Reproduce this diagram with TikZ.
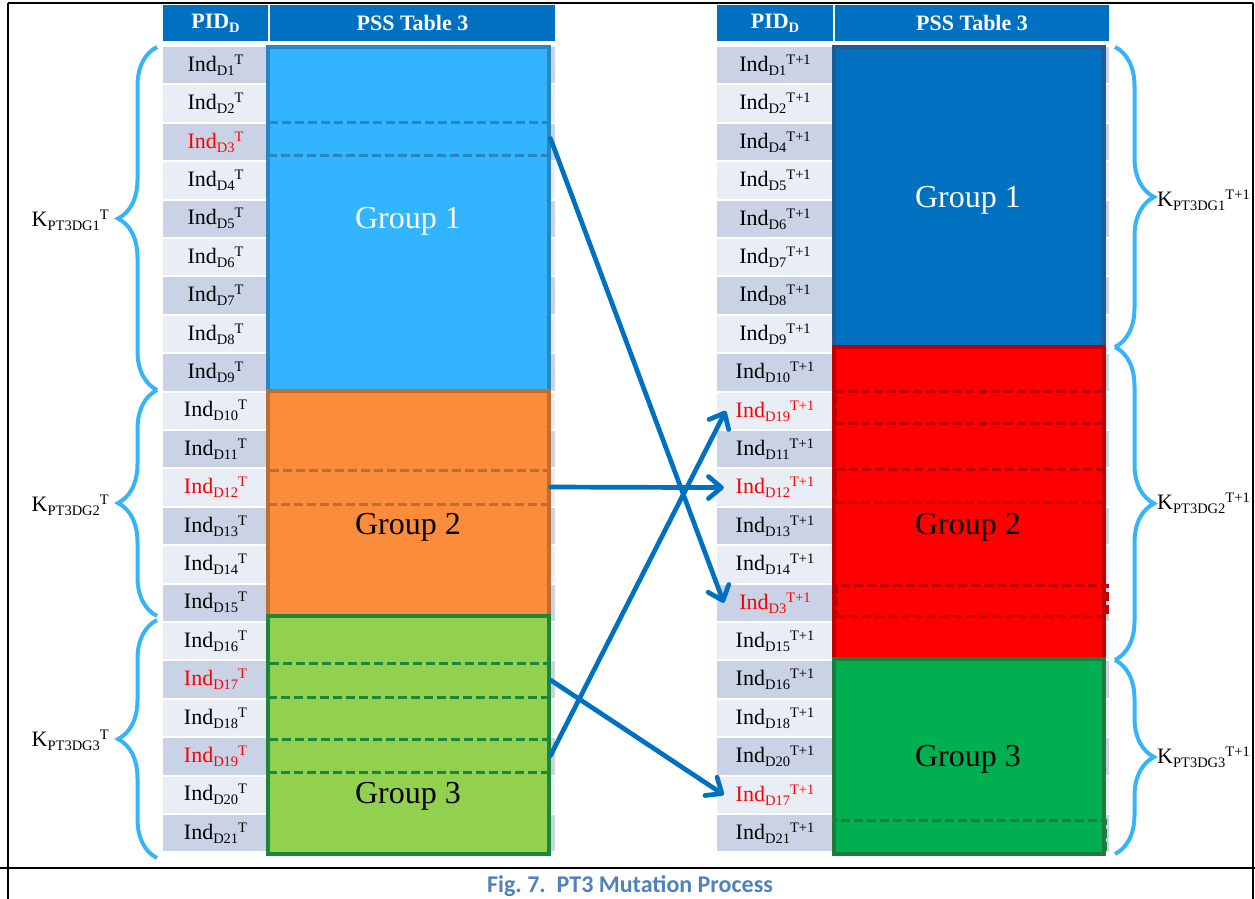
\documentclass[tikz,border=0pt]{standalone}
\usepackage{fontspec}
\setmainfont{Liberation Serif}
\newfontfamily\capfont{Carlito}
\usetikzlibrary{arrows.meta,decorations.pathreplacing,calc}

\definecolor{hdr}{HTML}{0070C0}
\definecolor{rowdark}{HTML}{CAD3E6}
\definecolor{rowlight}{HTML}{E9EDF5}
\definecolor{gA}{HTML}{33B4FF}
\definecolor{gAline}{HTML}{2A86C0}
\definecolor{gB}{HTML}{FA8C3B}
\definecolor{gBline}{HTML}{BE6E2E}
\definecolor{gC}{HTML}{92D050}
\definecolor{gCline}{HTML}{1A873A}
\definecolor{hA}{HTML}{0070C0}
\definecolor{hAline}{HTML}{1F5B94}
\definecolor{hB}{HTML}{FF0000}
\definecolor{hBline}{HTML}{BE0000}
\definecolor{hC}{HTML}{00B050}
\definecolor{hCline}{HTML}{1C7D3C}
\definecolor{bracecol}{HTML}{35B5F5}
\definecolor{arrowcol}{HTML}{0070C0}
\definecolor{capcol}{HTML}{4F81BD}

% small lowered / raised parts of the index labels
\newcommand{\LowPart}[1]{\raisebox{-4pt}{\fontsize{14.5}{15}\selectfont #1}}
\newcommand{\HighPart}[1]{\raisebox{7pt}{\fontsize{14.5}{15}\selectfont #1}}
\newcommand{\IndLabel}[2]{Ind\LowPart{D#1}\HighPart{#2}}
\newcommand{\KLabel}[2]{K\LowPart{PT3DG#1}\HighPart{#2}}

\begin{document}
\begin{tikzpicture}[x=1pt,y=-1pt,
  hdrcell/.style={fill=hdr, text=white, inner sep=0pt, minimum height=36,
    font=\fontsize{22}{24}\selectfont\bfseries},
  leftcell/.style={inner sep=0pt, minimum width=105, minimum height=36.4,
    font=\fontsize{22}{26}\selectfont},
  rightcell/.style={inner sep=0pt, minimum width=116, minimum height=36.4,
    font=\fontsize{22}{26}\selectfont},
  grouptext/.style={font=\fontsize{32}{36}\selectfont},
  groupbox/.style={line width=3.3},
  swapbox/.style={draw, dash pattern=on 9 off 4, line width=3, inner sep=0pt},
  kbrace/.style={draw=bracecol, line width=4, decorate,
    decoration={brace, amplitude=39}},
  klabel/.style={font=\fontsize{22}{26}\selectfont, inner sep=0pt},
  move/.style={draw=arrowcol, line width=4.7, line cap=round,
    -{Straight Barb[length=13, width=22, line cap=round, line join=round]}},
]
\useasboundingbox (0,0) rectangle (1255,898);

% outer frame and caption rule
\draw[line width=1.5] (8,3) -- (1253,3);
\draw[line width=1.5] (8,3) -- (8,900);
\draw[line width=1.5] (1253,3) -- (1253,900);
\draw[line width=2] (0,868) -- (1255,868);

% header cells
\node[hdrcell, minimum width=105] (hPidL) at (215.5,23) {PID\LowPart{\bfseries D}};
\node[hdrcell, minimum width=285] (hPssL) at (412.5,23) {PSS Table 3};
\node[hdrcell, minimum width=116] (hPidR) at (775,23) {PID\LowPart{\bfseries D}};
\node[hdrcell, minimum width=274] (hPssR) at (972,23) {PSS Table 3};

% row stripes
\foreach \i in {1,3,...,21} {
  \fill[rowdark] (163,{47+(\i-1)*38.4}) rectangle (555,{47+(\i-1)*38.4+36.4});
  \fill[rowdark] (717,{47+(\i-1)*38.4}) rectangle (1109,{47+(\i-1)*38.4+36.4});
}
\foreach \i in {2,4,...,20} {
  \fill[rowlight] (163,{47+(\i-1)*38.4}) rectangle (555,{47+(\i-1)*38.4+36.4});
  \fill[rowlight] (717,{47+(\i-1)*38.4}) rectangle (1109,{47+(\i-1)*38.4+36.4});
}

% generation T labels
\foreach \i/\c in {1/black,2/black,3/red,4/black,5/black,6/black,7/black,
  8/black,9/black,10/black,11/black,12/red,13/black,14/black,15/black,
  16/black,17/red,18/black,19/red,20/black,21/black} {
  \node[leftcell, text=\c] (L\i) at (215.5,{65.2+(\i-1)*38.4}) {\IndLabel{\i}{T}};
}

% generation T+1 labels
\foreach \i/\d/\c in {1/1/black,2/2/black,3/4/black,4/5/black,5/6/black,
  6/7/black,7/8/black,8/9/black,9/10/black,10/19/red,11/11/black,12/12/red,
  13/13/black,14/14/black,15/3/red,16/15/black,17/16/black,18/18/black,
  19/20/black,20/17/red,21/21/black} {
  \node[rightcell, text=\c] (R\i) at (775,{65.2+(\i-1)*38.4}) {\IndLabel{\d}{T+1}};
}

% groups of generation T
\draw[groupbox, fill=gA, draw=gAline] (268,47) rectangle (549,391);
\draw[groupbox, fill=gB, draw=gBline] (268,391) rectangle (549,616);
\draw[groupbox, fill=gC, draw=gCline] (268,616) rectangle (549,854);
\node[grouptext, text=white] (gl1) at (408,221) {Group 1};
\node[grouptext] (gl2) at (408,527) {Group 2};
\node[grouptext] (gl3) at (408,796) {Group 3};

% groups of generation T+1
\draw[groupbox, fill=hA, draw=hAline] (834,47) rectangle (1104,347);
\draw[groupbox, fill=hB, draw=hBline] (834,347) rectangle (1104,659);
\draw[groupbox, fill=hC, draw=hCline] (834,659) rectangle (1104,854);
\node[grouptext, text=white] (gr1) at (968,200) {Group 1};
\node[grouptext] (gr2) at (968,527) {Group 2};
\node[grouptext] (gr3) at (968,759) {Group 3};

% selected individuals
\node[swapbox, draw=gAline, minimum width=281, minimum height=33] (dl3) at (408.5,138.5) {};
\node[swapbox, draw=gBline, minimum width=281, minimum height=34] (dl12) at (408.5,487) {};
\node[swapbox, draw=gCline, minimum width=281, minimum height=34] (dl17) at (408.5,680) {};
\node[swapbox, draw=gCline, minimum width=281, minimum height=33] (dl19) at (408.5,755.5) {};
\node[swapbox, draw=hBline, minimum width=268, minimum height=32] (dr10) at (969,407) {};
\node[swapbox, draw=hBline, minimum width=268, minimum height=33] (dr12) at (969,485.5) {};
\node[swapbox, draw=hBline, minimum width=271, minimum height=31] (dr15) at (971.5,600.5) {};
\node[swapbox, draw=hCline, minimum width=271, minimum height=33] (dr21) at (969.5,836.5) {};

% moves between groups
\draw[move] (dl3.east) -- ([xshift=7]R15.west);
\draw[move] (dl12.east) -- ([xshift=7]R12.west);
\draw[move] (dl19.east) -- ([xshift=9]R10.west);
\draw[move] (dl17.east) -- ([xshift=7]R20.west);

% group sizes, generation T
\draw[kbrace] (157,390) -- (157,47);
\draw[kbrace] (157,616) -- (157,390);
\draw[kbrace] (157,858) -- (157,620);
\node[klabel, anchor=east] (kl1) at (109,220) {\KLabel{1}{T}};
\node[klabel, anchor=east] (kl2) at (109,505) {\KLabel{2}{T}};
\node[klabel, anchor=east] (kl3) at (109,740) {\KLabel{3}{T}};

% group sizes, generation T+1
\draw[kbrace] (1115,47) -- (1115,347);
\draw[kbrace] (1115,347) -- (1115,660);
\draw[kbrace] (1115,660) -- (1115,854);
\node[klabel, anchor=west] (kr1) at (1157,200) {\KLabel{1}{T+1}};
\node[klabel, anchor=west] (kr2) at (1157,503) {\KLabel{2}{T+1}};
\node[klabel, anchor=west] (kr3) at (1157,757) {\KLabel{3}{T+1}};

% caption
\node[font=\capfont\bfseries\fontsize{24}{28}\selectfont, text=capcol] (cap) at (630,886)
  {Fig.~7.\ \ PT3 Mutation Process};
\end{tikzpicture}
\end{document}
